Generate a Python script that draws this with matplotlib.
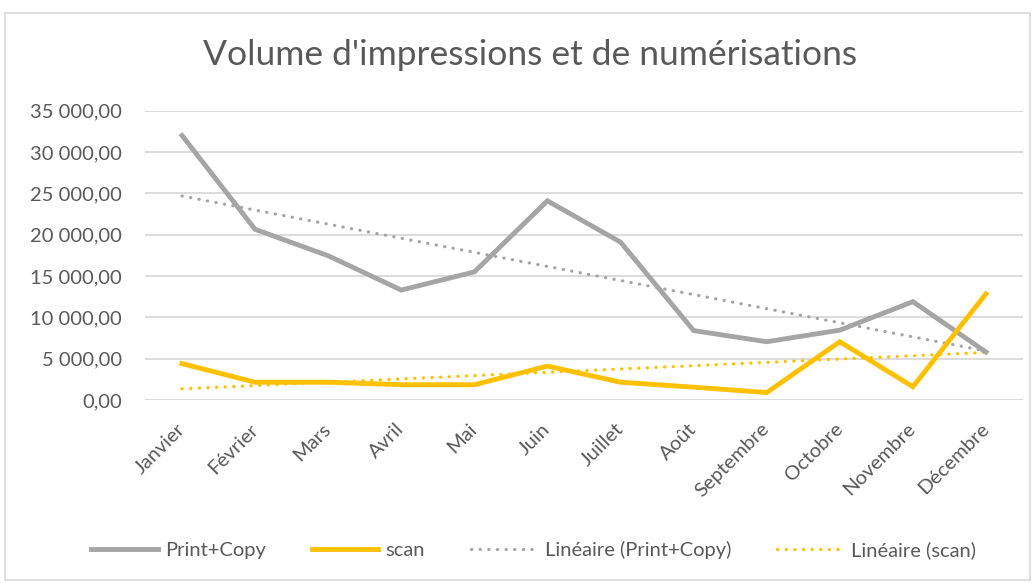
import matplotlib
matplotlib.use("Agg")
import matplotlib.pyplot as plt
from matplotlib.patches import Rectangle
from matplotlib.ticker import FuncFormatter, MultipleLocator
import numpy as np

plt.rcParams['font.family'] = ['Lato', 'DejaVu Sans']

# data
months = ["Janvier", "Février", "Mars", "Avril", "Mai", "Juin",
          "Juillet", "Août", "Septembre", "Octobre", "Novembre", "Décembre"]
print_copy = [32000, 20650, 17450, 13300, 15500, 24100,
              19100, 8400, 7050, 8450, 11900, 5800]
scan = [4400, 2150, 2150, 1850, 1850, 4100,
        2150, 1550, 900, 7050, 1600, 12850]

GRAY = "#A5A5A5"
GOLD = "#FFC000"
TEXT = "#595959"
GRID = "#D9D9D9"

x = np.arange(len(months))

# linear trend lines (Excel "Linéaire")
trend_pc = np.polyval(np.polyfit(x, print_copy, 1), x)
trend_sc = np.polyval(np.polyfit(x, scan, 1), x)

fig = plt.figure(figsize=(10.36, 5.83), dpi=100)
ax = fig.add_axes([0.1404, 0.3139, 0.987 - 0.1404, 0.8101 - 0.3139])

# chart border
fig.patches.append(Rectangle((5 / 1036, 3 / 583), 1025 / 1036, 567 / 583,
                             transform=fig.transFigure, fill=False,
                             edgecolor=GRID, linewidth=1.2))

dot = (0, (0.1, 2.6))
ax.plot(x, print_copy, color=GRAY, lw=3.5, solid_joinstyle='miter', label="Print+Copy", zorder=3)
ax.plot(x, scan, color=GOLD, lw=3.5, solid_joinstyle='miter', label="scan", zorder=4)
ax.plot(x, trend_pc, color=GRAY, lw=2.3, linestyle=dot, dash_capstyle='round',
        label="Linéaire (Print+Copy)", zorder=2)
ax.plot(x, trend_sc, color=GOLD, lw=2.3, linestyle=dot, dash_capstyle='round',
        label="Linéaire (scan)", zorder=2)

ax.set_xlim(-0.5, len(months) - 0.5)
ax.set_ylim(0, 35000)
ax.yaxis.set_major_locator(MultipleLocator(5000))
ax.yaxis.set_major_formatter(FuncFormatter(
    lambda v, p: "{:,.2f}".format(v).replace(",", " ").replace(".", ",")))
ax.grid(axis='y', color=GRID, lw=1.3)
ax.set_axisbelow(True)
for s in ax.spines.values():
    s.set_visible(False)

ax.set_xticks(x)
ax.set_xticklabels(months, rotation=45, ha='right', va='center',
                   rotation_mode='anchor')
ax.tick_params(axis='x', length=0, pad=19, labelsize=14.5, labelcolor=TEXT)
ax.tick_params(axis='y', length=0, pad=17, labelsize=14.5, labelcolor=TEXT)

fig.text(0.512, 0.905, "Volume d'impressions et de numérisations",
         ha='center', va='center', fontsize=25.5, color=TEXT)

leg = fig.legend(loc='center', bbox_to_anchor=(0.515, 0.057), ncol=4,
                 frameon=False, fontsize=14.5, handlelength=3.3,
                 columnspacing=2.3, handletextpad=0.35)
for t in leg.get_texts():
    t.set_color(TEXT)

fig.savefig("out.png", dpi=100)
